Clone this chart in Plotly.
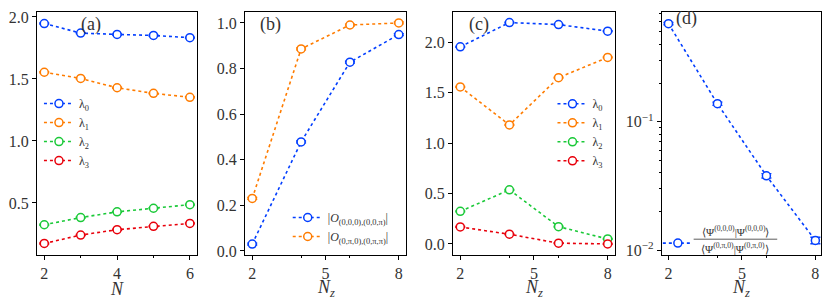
import plotly.graph_objects as go

# ---------------- data ----------------
N = [2, 3, 4, 5, 6]
a_lam0 = [1.947, 1.870, 1.859, 1.851, 1.833]
a_lam1 = [1.554, 1.504, 1.429, 1.384, 1.352]
a_lam2 = [0.324, 0.382, 0.428, 0.457, 0.486]
a_lam3 = [0.173, 0.241, 0.284, 0.311, 0.335]

Nz = [2, 4, 6, 8]
b_O1 = [0.030, 0.478, 0.828, 0.949]
b_O2 = [0.230, 0.886, 0.991, 1.000]

c_lam0 = [1.955, 2.195, 2.175, 2.110]
c_lam1 = [1.557, 1.180, 1.649, 1.849]
c_lam2 = [0.323, 0.536, 0.171, 0.049]
c_lam3 = [0.168, 0.096, 0.007, 0.000]

d_ratio = [0.58, 0.138, 0.0379, 0.0119]
d_err = [0.012, 0.004, 0.0015, 0.0007]

lin_err = 0.004

lam_names = ["λ<sub>0</sub>", "λ<sub>1</sub>", "λ<sub>2</sub>", "λ<sub>3</sub>"]
b_names = ["|<i>O</i><sub>(0,0,0),(0,0,π)</sub>|", "|<i>O</i><sub>(0,π,0),(0,π,π)</sub>|"]
d_num = "⟨Ψ<sup>(0,0,0)</sup>|Ψ<sup>(0,0,0)</sup>⟩"
d_den = "⟨Ψ<sup>(0,π,0)</sup>|Ψ<sup>(0,π,0)</sup>⟩"

colors = ["#023eff", "#ff7c00", "#1ac938", "#e8000b"]
FONT = "Liberation Serif"

fig = go.Figure()


def add(x, y, name, color, xa, ya, leg, err=None):
    fig.add_trace(go.Scatter(
        x=x, y=y, name=name, mode="lines+markers",
        xaxis=xa, yaxis=ya, legend=leg,
        line=dict(color=color, width=1.6, dash="dot"),
        marker=dict(symbol="circle", size=8, color="white",
                    line=dict(color=color, width=1.5)),
        error_y=dict(type="data", array=err if err is not None else [lin_err] * len(y),
                     visible=True, color=color, thickness=1.4, width=5),
    ))


for ys, nm, col in zip([a_lam0, a_lam1, a_lam2, a_lam3], lam_names, colors):
    add(N, ys, nm, col, "x", "y", "legend")
for ys, nm, col in zip([b_O1, b_O2], b_names, colors):
    add(Nz, ys, nm, col, "x2", "y2", "legend2")
for ys, nm, col in zip([c_lam0, c_lam1, c_lam2, c_lam3], lam_names, colors):
    add(Nz, ys, nm, col, "x3", "y3", "legend3")
add(Nz, d_ratio, " ", colors[0], "x4", "y4", "legend4", err=d_err)

ax = dict(showline=True, mirror=True, linecolor="black", linewidth=1,
          ticks="outside", ticklen=4, tickwidth=1, tickcolor="black",
          showgrid=False, zeroline=False,
          tickfont=dict(family=FONT, size=16, color="#333"))
xax = dict(ax)

xz_minor = dict(ticks="outside", ticklen=2, tickwidth=1, tickcolor="black",
                tickmode="array", tickvals=[4, 6], showgrid=False)

doms = [[0.0, 0.2043], [0.2652, 0.4708], [0.5305, 0.7373], [0.7970, 1.0]]

fig.update_layout(
    width=831, height=302,
    margin=dict(l=33, r=10, t=9, b=47),
    paper_bgcolor="white", plot_bgcolor="white",
    font=dict(family=FONT, color="#333"),
    xaxis=dict(xax, domain=doms[0], anchor="y", range=[1.8, 6.2],
               tickvals=[2, 4, 6],
               minor=dict(ticks="outside", ticklen=2, tickwidth=1, tickcolor="black",
                          tickmode="array", tickvals=[3, 5], showgrid=False)),
    yaxis=dict(ax, domain=[0, 1], anchor="x", range=[0.08, 2.04],
               tickvals=[0.5, 1.0, 1.5, 2.0], tickformat=".1f"),
    xaxis2=dict(xax, domain=doms[1], anchor="y2", range=[1.7, 8.3],
                tickvals=[2, 5, 8], minor=xz_minor),
    yaxis2=dict(ax, domain=[0, 1], anchor="x2", range=[-0.018, 1.048],
                tickvals=[0, 0.2, 0.4, 0.6, 0.8, 1.0], tickformat=".1f"),
    xaxis3=dict(xax, domain=doms[2], anchor="y3", range=[1.7, 8.3],
                tickvals=[2, 5, 8], minor=xz_minor),
    yaxis3=dict(ax, domain=[0, 1], anchor="x3", range=[-0.11, 2.30],
                tickvals=[0, 0.5, 1.0, 1.5, 2.0], tickformat=".1f"),
    xaxis4=dict(xax, domain=doms[3], anchor="y4", range=[1.73, 8.23],
                tickvals=[2, 5, 8], minor=xz_minor),
    yaxis4=dict(ax, domain=[0, 1], anchor="x4", type="log", range=[-2.038, -0.146],
                tickvals=[0.01, 0.1], ticktext=["10<sup>−2</sup>", "10<sup>−1</sup>"],
                minor=dict(ticks="outside", ticklen=2, tickwidth=1, tickcolor="black",
                           tickmode="array",
                           tickvals=[0.02, 0.03, 0.04, 0.05, 0.06, 0.07, 0.08, 0.09,
                                     0.2, 0.3, 0.4, 0.5, 0.6, 0.7],
                           showgrid=False)),
    showlegend=True,
)

legfont = dict(family=FONT, size=12, color="#333")
leg_common = dict(bgcolor="rgba(0,0,0,0)", borderwidth=0, font=legfont,
                  tracegroupgap=0, xanchor="left", itemclick=False)
fig.update_layout(
    legend=dict(leg_common, x=0.0025, y=0.683, yanchor="top"),
    legend2=dict(leg_common, x=0.3198, y=0.214, yanchor="top"),
    legend3=dict(leg_common, x=0.6575, y=0.682, yanchor="top"),
    legend4=dict(leg_common, x=0.7919, y=0.049, yanchor="middle"),
)

# fraction in the legend of (d)
fig.add_shape(type="line", xref="paper", yref="paper",
              x0=(693 - 33) / 788, x1=(777 - 33) / 788,
              y0=(255 - 239) / 246, y1=(255 - 239) / 246,
              line=dict(color="#333", width=0.8))
for txt, py in [(d_num, 230.5), (d_den, 247.5)]:
    fig.add_annotation(text=txt, xref="paper", yref="paper",
                       x=(735 - 33) / 788, y=(255 - py) / 246,
                       xanchor="center", yanchor="middle", showarrow=False,
                       font=dict(family=FONT, size=11, color="#333"))

labels = [("(a)", "x", "y", 0.34, 0.947), ("(b)", "x2", "y2", 0.16, 0.947),
          ("(c)", "x3", "y3", 0.16, 0.947), ("(d)", "x4", "y4", 0.156, 0.972)]
for txt, xa, ya, xx, yy in labels:
    fig.add_annotation(text=txt, xref=xa + " domain", yref=ya + " domain",
                       x=xx, y=yy, xanchor="center", yanchor="middle", showarrow=False,
                       font=dict(family=FONT, size=18, color="#333"))

# axis titles
titles = [("<i>N</i>", "x"), ("<i>N<sub>z</sub></i>", "x2"),
          ("<i>N<sub>z</sub></i>", "x3"), ("<i>N<sub>z</sub></i>", "x4")]
for txt, xa in titles:
    fig.add_annotation(text=txt, xref=xa + " domain", yref="paper",
                       x=0.5, y=-0.138, xanchor="center", yanchor="middle", showarrow=False,
                       font=dict(family=FONT, size=18, color="#333"))

fig.write_html("out.html", config={"displayModeBar": False},
               post_script="document.body.style.margin='0';")
